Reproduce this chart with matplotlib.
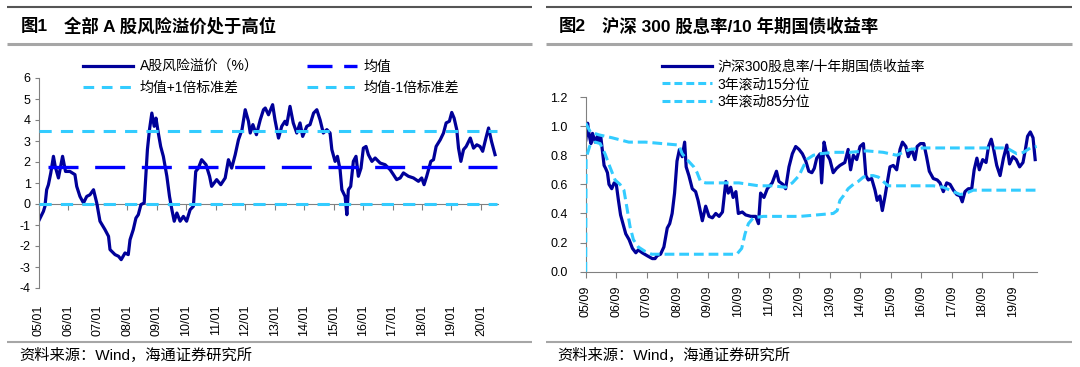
import matplotlib
matplotlib.use('Agg')
import matplotlib.pyplot as plt
from matplotlib.lines import Line2D

W, H = 1080, 367
FAM = ['Liberation Sans', 'Noto Sans CJK SC']
plt.rcParams['font.family'] = FAM

# ---------------- data: left chart (A-share risk premium, %) ----------------
rp_year = [2005.01, 2005.15, 2005.20, 2005.26, 2005.32, 2005.40, 2005.49, 2005.55, 2005.66, 2005.80,
           2005.90, 2006.05, 2006.22, 2006.28, 2006.39, 2006.51, 2006.62, 2006.73, 2006.85, 2006.96,
           2007.07, 2007.24, 2007.36, 2007.41, 2007.58, 2007.70, 2007.79, 2007.92, 2008.03, 2008.09,
           2008.20, 2008.29, 2008.37, 2008.46, 2008.57, 2008.68, 2008.75, 2008.83, 2008.91, 2008.97,
           2009.05, 2009.13, 2009.22, 2009.34, 2009.43, 2009.51, 2009.59, 2009.68, 2009.79, 2009.90,
           2010.01, 2010.13, 2010.24, 2010.32, 2010.41, 2010.52, 2010.67, 2010.79, 2010.86, 2011.03,
           2011.17, 2011.32, 2011.43, 2011.54, 2011.66, 2011.77, 2011.89, 2012.00, 2012.11, 2012.17,
           2012.26, 2012.38, 2012.51, 2012.62, 2012.68, 2012.79, 2012.93, 2013.01, 2013.13, 2013.24,
           2013.35, 2013.41, 2013.52, 2013.63, 2013.75, 2013.86, 2013.95, 2014.09, 2014.20, 2014.32,
           2014.43, 2014.54, 2014.65, 2014.77, 2014.88, 2014.94, 2015.05, 2015.13, 2015.22, 2015.28,
           2015.39, 2015.45, 2015.50, 2015.58, 2015.67, 2015.76, 2015.84, 2015.93, 2016.01, 2016.10,
           2016.18, 2016.30, 2016.41, 2016.58, 2016.75, 2016.92, 2017.03, 2017.14, 2017.26, 2017.37,
           2017.54, 2017.71, 2017.88, 2017.99, 2018.07, 2018.16, 2018.30, 2018.39, 2018.48, 2018.62,
           2018.73, 2018.82, 2018.93, 2019.01, 2019.09, 2019.18, 2019.24, 2019.32, 2019.41, 2019.50,
           2019.64, 2019.75, 2019.86, 2019.97, 2020.06, 2020.17, 2020.26, 2020.36, 2020.48]
rp_value = [-0.75, -0.35, -0.12, 0.68, 0.92, 1.48, 2.27, 1.79, 1.24, 2.27,
            1.55, 1.55, 1.40, 0.84, 0.36, 0.05, 0.36, 0.44, 0.68, 0.05,
            -0.82, -1.22, -1.54, -2.17, -2.41, -2.49, -2.65, -2.33, -2.41, -1.70,
            -1.22, -0.67, -0.51, -0.03, 0.05, 2.59, 3.54, 4.33, 3.70, 4.09,
            3.38, 2.74, 2.27, 1.32, 0.36, -0.27, -0.82, -0.43, -0.82, -0.59,
            -0.82, -0.27, -0.11, 1.55, 1.71, 2.11, 1.87, 1.32, 0.84, 1.16,
            0.92, 1.24, 2.11, 1.71, 2.35, 3.06, 3.54, 4.49, 3.94, 3.38,
            3.78, 3.30, 4.01, 4.49, 4.57, 4.25, 4.73, 4.01, 3.14, 3.70,
            3.94, 3.78, 4.65, 3.86, 3.38, 3.86, 3.22, 3.70, 3.78, 4.33,
            4.49, 4.01, 3.38, 3.54, 3.38, 2.59, 2.03, 2.27, 1.63, 0.68,
            0.36, -0.51, 0.68, 0.84, 2.03, 2.27, 1.32, 1.71, 2.66, 2.74,
            2.35, 2.03, 2.19, 1.95, 1.87, 1.63, 1.40, 1.16, 1.24, 1.48,
            1.32, 1.24, 1.08, 1.24, 0.92, 1.32, 2.03, 2.11, 2.74, 3.06,
            3.38, 3.86, 3.94, 4.36, 4.09, 3.54, 2.66, 2.03, 2.59, 2.74,
            3.14, 2.66, 2.82, 2.74, 2.51, 3.14, 3.62, 2.98, 2.35]
rp_mean = 1.74
rp_std = 1.73
left_ticks = list(range(2005, 2021))
left_labels = ['%02d/01' % (y - 2000) for y in left_ticks]

# ---------------- data: right chart (dividend yield / 10y bond yield) ----------------
dy_year = [2005.672, 2005.73, 2005.78, 2005.84, 2005.89, 2005.98, 2006.05, 2006.10, 2006.16, 2006.21,
           2006.27, 2006.32, 2006.38, 2006.43, 2006.52, 2006.60, 2006.67, 2006.74, 2006.81, 2006.89,
           2006.98, 2007.09, 2007.20, 2007.31, 2007.39, 2007.52, 2007.68, 2007.85, 2007.94, 2008.01,
           2008.12, 2008.23, 2008.34, 2008.42, 2008.50, 2008.58, 2008.66, 2008.74, 2008.83, 2008.91,
           2008.96, 2009.05, 2009.16, 2009.27, 2009.35, 2009.43, 2009.49, 2009.60, 2009.71, 2009.82,
           2009.93, 2010.04, 2010.15, 2010.26, 2010.34, 2010.42, 2010.50, 2010.59, 2010.67, 2010.80,
           2010.91, 2011.08, 2011.24, 2011.33, 2011.40, 2011.51, 2011.62, 2011.78, 2011.92, 2012.00,
           2012.13, 2012.22, 2012.33, 2012.44, 2012.55, 2012.66, 2012.77, 2012.88, 2012.98, 2013.08,
           2013.16, 2013.24, 2013.35, 2013.40, 2013.48, 2013.56, 2013.67, 2013.78, 2013.89, 2014.00,
           2014.16, 2014.27, 2014.35, 2014.44, 2014.55, 2014.66, 2014.77, 2014.85, 2014.93, 2015.04,
           2015.15, 2015.22, 2015.31, 2015.39, 2015.48, 2015.55, 2015.64, 2015.75, 2015.86, 2015.97,
           2016.05, 2016.16, 2016.24, 2016.35, 2016.46, 2016.53, 2016.64, 2016.75, 2016.84, 2016.93,
           2017.06, 2017.19, 2017.28, 2017.39, 2017.50, 2017.61, 2017.72, 2017.83, 2017.94, 2018.01,
           2018.10, 2018.21, 2018.32, 2018.40, 2018.49, 2018.57, 2018.68, 2018.79, 2018.87, 2018.96,
           2019.03, 2019.14, 2019.25, 2019.36, 2019.47, 2019.56, 2019.67, 2019.78, 2019.89, 2020.00,
           2020.08, 2020.15, 2020.24, 2020.33, 2020.40]
dy_value = [0.905, 1.02, 0.94, 0.88, 0.95, 0.89, 0.93, 0.89, 0.93, 0.84,
            0.73, 0.71, 0.68, 0.60, 0.57, 0.61, 0.60, 0.49, 0.39, 0.33,
            0.26, 0.22, 0.16, 0.13, 0.15, 0.13, 0.11, 0.09, 0.09, 0.11,
            0.12, 0.17, 0.30, 0.33, 0.40, 0.54, 0.76, 0.84, 0.79, 0.89,
            0.72, 0.66, 0.57, 0.55, 0.49, 0.41, 0.35, 0.45, 0.38, 0.37,
            0.40, 0.38, 0.41, 0.62, 0.54, 0.58, 0.51, 0.55, 0.40, 0.41,
            0.39, 0.38, 0.38, 0.33, 0.54, 0.51, 0.57, 0.61, 0.69, 0.62,
            0.60, 0.57, 0.72, 0.81, 0.86, 0.84, 0.81, 0.76, 0.69, 0.68,
            0.71, 0.78, 0.81, 0.61, 0.89, 0.81, 0.77, 0.68, 0.71, 0.73,
            0.75, 0.84, 0.70, 0.80, 0.77, 0.86, 0.88, 0.66, 0.63, 0.64,
            0.56, 0.49, 0.52, 0.42, 0.52, 0.61, 0.72, 0.73, 0.70, 0.84,
            0.89, 0.86, 0.79, 0.84, 0.77, 0.86, 0.88, 0.88, 0.79, 0.69,
            0.64, 0.63, 0.61, 0.55, 0.61, 0.60, 0.56, 0.53, 0.52, 0.48,
            0.55, 0.57, 0.57, 0.70, 0.78, 0.70, 0.77, 0.75, 0.86, 0.91,
            0.85, 0.73, 0.66, 0.78, 0.87, 0.74, 0.79, 0.77, 0.72, 0.75,
            0.84, 0.93, 0.96, 0.92, 0.77]

p15_year = [2005.667, 2005.68, 2005.81, 2005.98, 2006.14, 2006.30, 2006.46, 2006.63, 2006.79, 2006.92,
            2007.01, 2007.12, 2007.23, 2007.39, 2007.61, 2007.83, 2008.10, 2008.76, 2009.85, 2010.62,
            2010.78, 2010.89, 2011.00, 2011.16, 2011.49, 2012.03, 2012.69, 2013.24, 2013.78, 2013.91,
            2014.00, 2014.11, 2014.27, 2014.44, 2014.60, 2014.77, 2014.93, 2015.09, 2015.26, 2015.42,
            2015.58, 2015.97, 2017.06, 2017.39, 2017.72, 2017.94, 2018.15, 2018.37, 2018.81, 2020.45]
p15_value = [0.0, 0.78, 0.87, 0.89, 0.88, 0.81, 0.72, 0.63, 0.60, 0.56,
             0.45, 0.31, 0.22, 0.17, 0.14, 0.12, 0.12, 0.12, 0.12, 0.12,
             0.16, 0.26, 0.33, 0.37, 0.38, 0.38, 0.38, 0.39, 0.40, 0.42,
             0.49, 0.52, 0.57, 0.60, 0.62, 0.65, 0.66, 0.66, 0.65, 0.62,
             0.59, 0.59, 0.59, 0.58, 0.55, 0.53, 0.54, 0.56, 0.56, 0.56]

p85_year = [2005.667, 2005.82, 2006.10, 2006.53, 2007.08, 2007.63, 2008.17, 2008.72, 2008.83, 2008.99,
            2009.21, 2009.32, 2009.43, 2009.60, 2010.04, 2010.69, 2011.34, 2011.78, 2012.22, 2012.44,
            2012.66, 2012.91, 2013.13, 2013.35, 2013.78, 2014.33, 2014.88, 2015.42, 2015.86, 2016.29,
            2016.73, 2017.28, 2018.15, 2018.81, 2019.47, 2019.80, 2020.02, 2020.24, 2020.45]
p85_value = [1.02, 0.96, 0.94, 0.92, 0.89, 0.89, 0.88, 0.87, 0.81, 0.77,
             0.72, 0.68, 0.62, 0.61, 0.61, 0.61, 0.59, 0.59, 0.58, 0.61,
             0.66, 0.77, 0.80, 0.81, 0.82, 0.82, 0.83, 0.82, 0.80, 0.84,
             0.85, 0.85, 0.85, 0.85, 0.85, 0.81, 0.82, 0.85, 0.86]
right_ticks = [2005.667 + k for k in range(15)]
right_labels = ['%02d/09' % (5 + k) for k in range(15)]

# ---------------- styling ----------------
NAVY = '#000099'
BLUE = '#0000FF'
CYAN = '#33CCFF'
GRAY = '#808080'
FS = 9
LFS = 10

fig = plt.figure(figsize=(W / 100, H / 100), dpi=100)


def fx(px):
    return px / W


def fy(py):
    return 1 - py / H


def hline(x0, x1, y, color, lw):
    fig.add_artist(Line2D([fx(x0), fx(x1)], [fy(y), fy(y)], color=color, lw=lw,
                          transform=fig.transFigure, solid_capstyle='butt'))


# panel decorations
for (x0, x1) in [(7, 532), (546, 1072)]:
    hline(x0, x1, 6.5, '#555555', 1.5)
    hline(x0, x1, 44, '#A6A6A6', 2.2)
    hline(x0, x1, 342, '#A6A6A6', 1.5)

TFS = 12.5
fig.text(fx(21), fy(26), '图1', fontsize=TFS, fontweight='bold', va='center', ha='left', family=FAM)
fig.text(fx(64), fy(26), '全部 A 股风险溢价处于高位', fontsize=TFS, fontweight='bold', va='center', ha='left', family=FAM)
fig.text(fx(559), fy(26), '图2', fontsize=TFS, fontweight='bold', va='center', ha='left', family=FAM)
fig.text(fx(602), fy(26), '沪深 300 股息率/10 年期国债收益率', fontsize=TFS, fontweight='bold', va='center', ha='left', family=FAM)

fig.text(fx(19), fy(355), '资料来源：Wind，海通证券研究所', fontsize=11, va='center', ha='left', family=FAM)
fig.text(fx(557), fy(355), '资料来源：Wind，海通证券研究所', fontsize=11, va='center', ha='left', family=FAM)

# ---------------- left chart ----------------
axL = fig.add_axes([fx(39), fy(288), fx(498) - fx(39), (288 - 78) / H])
axL.set_xlim(2005.0, 2020.58)
axL.set_ylim(-4, 6)
axL.set_yticks(range(-4, 7))
axL.set_yticklabels([str(v) for v in range(-4, 7)])
x_end = [2005.0, 2020.55]
lrp, = axL.plot(rp_year, rp_value, color=NAVY, lw=2.3, solid_joinstyle='round', zorder=2)
lp, = axL.plot(x_end, [rp_mean + rp_std] * 2, color=CYAN, lw=2.2, dashes=(4, 3), zorder=3)
lm1, = axL.plot(x_end, [rp_mean - rp_std] * 2, color=CYAN, lw=2.2, dashes=(4, 3), zorder=3)
lmean, = axL.plot([2005.3, 2020.55], [rp_mean] * 2, color=BLUE, lw=2.4, dashes=(9, 5), zorder=3)

for s in ['top', 'right', 'bottom']:
    axL.spines[s].set_visible(False)
axL.spines['left'].set_color(GRAY)
axL.tick_params(axis='y', direction='out', length=3, color=GRAY, labelsize=FS, pad=3)
axL.set_xticks(left_ticks)
axL.set_xticklabels(left_labels, rotation=90)
axL.tick_params(axis='x', length=0, labelsize=FS, pad=12)

secL = axL.secondary_xaxis(0.4)
secL.set_xticks(left_ticks)
secL.set_xticklabels([''] * len(left_ticks))
secL.spines['bottom'].set_color(GRAY)
secL.tick_params(axis='x', direction='out', length=4, color=GRAY)
axL.set_zorder(1)

# legend proxies (same styles, dash pattern fitted to the handle)
h_rp = Line2D([], [], color=NAVY, lw=2.3)
h_mean = Line2D([], [], color=BLUE, lw=2.4, dashes=(7.5, 3.5))
h_cy = Line2D([], [], color=CYAN, lw=2.2, dashes=(3.5, 2.5))
fig.legend([h_rp, h_cy, h_mean, h_cy],
           ['A股风险溢价（%）', '均值+1倍标准差', '均值', '均值-1倍标准差'],
           ncol=2, frameon=False, fontsize=LFS,
           loc='upper left', bbox_to_anchor=(fx(77), fy(54)), handlelength=3.6,
           handletextpad=0.5, columnspacing=3.5, labelspacing=0.5, borderaxespad=0)

# ---------------- right chart ----------------
axR = fig.add_axes([fx(585.7), fy(271.7), fx(1036.7) - fx(585.7), (271.7 - 97) / H])
axR.set_xlim(2005.667, 2020.45)
axR.set_ylim(0, 1.2)
axR.set_yticks([0, 0.2, 0.4, 0.6, 0.8, 1.0, 1.2])
axR.set_yticklabels(['%.1f' % v for v in [0, 0.2, 0.4, 0.6, 0.8, 1.0, 1.2]])
l1, = axR.plot(dy_year, dy_value, color=NAVY, lw=2.3, solid_joinstyle='round', zorder=2)
l2, = axR.plot(p15_year, p15_value, color=CYAN, lw=2.2, dashes=(3.2, 1.6), zorder=3)
l3, = axR.plot(p85_year, p85_value, color=CYAN, lw=2.2, dashes=(3.2, 1.6), zorder=3)
for s in ['top', 'right']:
    axR.spines[s].set_visible(False)
axR.spines['left'].set_color(GRAY)
axR.spines['bottom'].set_color(GRAY)
axR.set_xticks(right_ticks)
axR.set_xticklabels(right_labels, rotation=90)
axR.tick_params(axis='y', direction='out', length=4, color=GRAY, labelsize=FS, pad=9)
axR.tick_params(axis='x', direction='out', length=4, color=GRAY, labelsize=FS, pad=6)

h_r1 = Line2D([], [], color=NAVY, lw=2.3)
h_r2 = Line2D([], [], color=CYAN, lw=2.2, dashes=(2.6, 1.3))
fig.legend([h_r1, h_r2, h_r2], ['沪深300股息率/十年期国债收益率', '3年滚动15分位', '3年滚动85分位'],
           ncol=1, frameon=False, fontsize=LFS, loc='upper left',
           bbox_to_anchor=(fx(656), fy(54)), handlelength=3.6, handletextpad=0.4,
           labelspacing=0.25, borderaxespad=0)

fig.savefig('out.png', dpi=100)
